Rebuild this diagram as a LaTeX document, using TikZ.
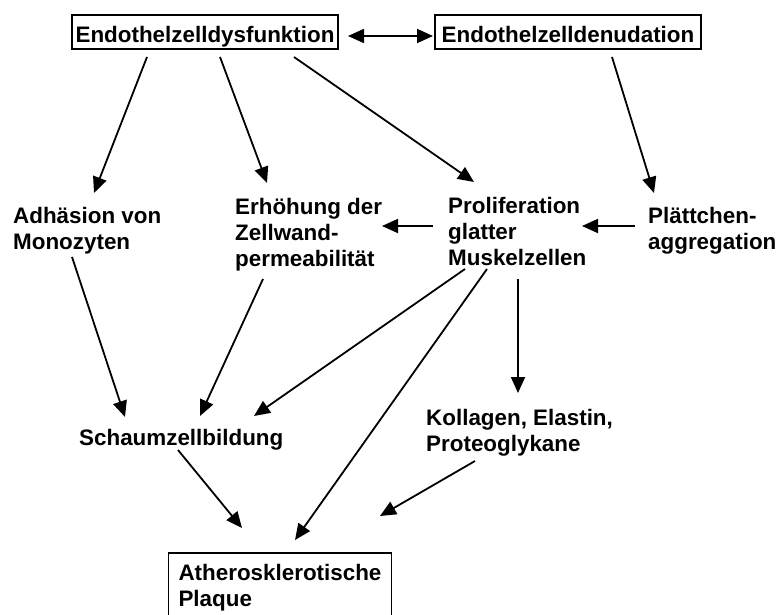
\documentclass[tikz,border=0pt]{standalone}
\usepackage{fontspec}
\setmainfont{Liberation Sans}
\usetikzlibrary{arrows.meta}

\tikzset{
    txtnode/.style={inner sep=0pt, anchor=base west, align=left,
        font=\fontsize{22.4}{26}\selectfont\bfseries},
    framed/.style={txtnode, anchor=base, draw, line width=1.6pt, inner ysep=0pt},
    arr/.style={line width=1.8pt, >={Triangle[length=16pt,width=14pt]}, ->},
}

\begin{document}
\begin{tikzpicture}[x=1pt, y=-1pt]
    \useasboundingbox (0, 0) rectangle (779, 615);

    % boxes
    \node[framed, minimum width=266pt, text height=28pt, text depth=6pt] (dys) at (205, 43) {Endothelzelldysfunktion};
    \node[framed, minimum width=266pt, text height=28pt, text depth=6pt] (den) at (568, 43) {Endothelzelldenudation};
    \node[framed, minimum width=223pt, text height=53pt, text depth=12pt] (ath) at (280, 606) {Atherosklerotische\\Plaque};

    % free text (base = last line)
    \node[txtnode] (adh) at (13, 249) {Adhäsion von\\Monozyten};
    \node[txtnode] (erh) at (235, 266) {Erhöhung der\\Zellwand-\\permeabilität};
    \node[txtnode] (pro) at (448, 265) {Proliferation\\glatter\\Muskelzellen};
    \node[txtnode] (plt) at (648, 249) {Plättchen-\\aggregation};
    \node[txtnode] (sch) at (79, 445) {Schaumzellbildung};
    \node[txtnode] (kol) at (426, 451) {Kollagen, Elastin,\\Proteoglykane};

    % arrow ends
    \coordinate (dys-adh) at (147, 57);   \coordinate (adh-in) at (94, 193);
    \coordinate (dys-erh) at (220, 57);   \coordinate (erh-in) at (267, 183);
    \coordinate (dys-pro) at (294, 57);   \coordinate (pro-in) at (474, 182);
    \coordinate (den-plt) at (612, 57);   \coordinate (plt-in) at (654, 193);
    \coordinate (dys-r) at (348, 36);     \coordinate (den-l) at (433, 36);
    \coordinate (pro-l) at (433, 226);    \coordinate (erh-r) at (382, 226);
    \coordinate (plt-l) at (635, 226);    \coordinate (pro-r) at (582, 226);
    \coordinate (adh-out) at (72, 257);   \coordinate (sch-in1) at (125, 417);
    \coordinate (erh-out) at (263, 279);  \coordinate (sch-in2) at (200, 416);
    \coordinate (pro-out1) at (465, 269); \coordinate (sch-in3) at (254, 416);
    \coordinate (pro-out2) at (518, 279); \coordinate (kol-in) at (518, 393);
    \coordinate (pro-out3) at (487, 269); \coordinate (ath-in1) at (295, 540);
    \coordinate (sch-out) at (178, 450);  \coordinate (ath-in2) at (242, 528);
    \coordinate (kol-out) at (475, 461);  \coordinate (ath-in3) at (380, 516);

    \draw[arr, <->] (dys-r) -- (den-l);
    \draw[arr] (dys-adh) -- (adh-in);
    \draw[arr] (dys-erh) -- (erh-in);
    \draw[arr] (dys-pro) -- (pro-in);
    \draw[arr] (den-plt) -- (plt-in);
    \draw[arr] (pro-l) -- (erh-r);
    \draw[arr] (plt-l) -- (pro-r);
    \draw[arr] (adh-out) -- (sch-in1);
    \draw[arr] (erh-out) -- (sch-in2);
    \draw[arr] (pro-out1) -- (sch-in3);
    \draw[arr] (pro-out2) -- (kol-in);
    \draw[arr] (pro-out3) -- (ath-in1);
    \draw[arr] (sch-out) -- (ath-in2);
    \draw[arr] (kol-out) -- (ath-in3);
\end{tikzpicture}
\end{document}
